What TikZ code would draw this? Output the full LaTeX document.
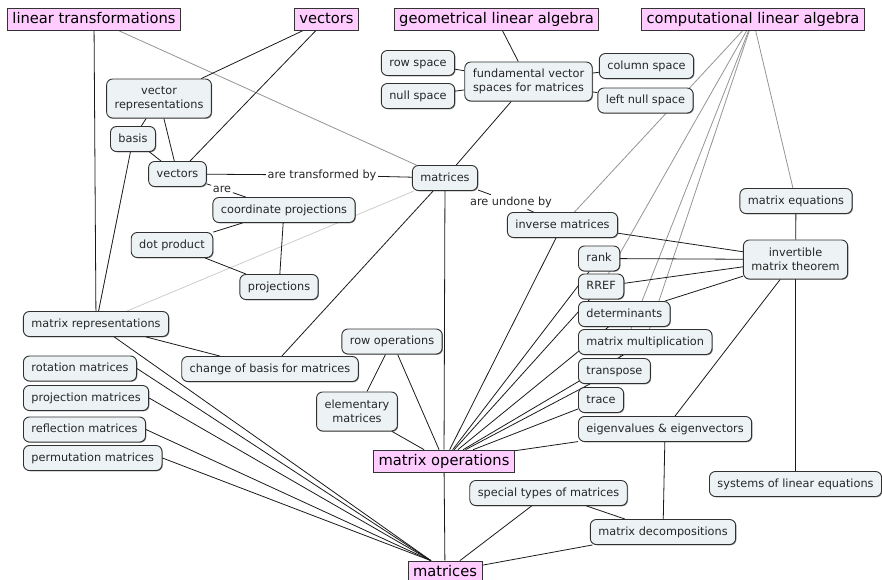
\documentclass[tikz,border=0pt]{standalone}
\usepackage{fontspec}
\setmainfont{DejaVu Sans}
\usetikzlibrary{backgrounds,shadows}
\definecolor{pinkfill}{HTML}{FFCCFF}
\definecolor{boxfill}{HTML}{EDF3F5}
\definecolor{edgecol}{HTML}{1A1A1A}
\definecolor{bordercol}{HTML}{303030}
\begin{document}
\begin{tikzpicture}[x=1pt,y=-1pt,
 cbox/.style={draw=bordercol, fill=boxfill, rounded corners=6pt, line width=0.9pt,
   font=\fontsize{11.3}{14}\selectfont, text=black!85, inner xsep=8pt, inner ysep=0pt,
   text height=8.7pt, text depth=2.6pt, minimum height=25pt,
   drop shadow={shadow xshift=0.8pt,shadow yshift=-0.8pt,opacity=0.45,fill=black}},
 cbox2/.style={cbox, text height={}, text depth={}, align=center, minimum height=39pt},
 topic/.style={draw=black!80, fill=pinkfill, line width=0.7pt,
   font=\fontsize{14.7}{17}\selectfont, inner xsep=5pt, inner ysep=0pt,
   text height=11pt, text depth=3pt, minimum height=22pt},
 lbl/.style={font=\fontsize{11.3}{14}\selectfont, text=black!85, inner sep=1.5pt,
   text height=8.7pt, text depth=2.6pt},
 blk/.style={draw=edgecol, line width=0.8pt},
 gry/.style={draw=black!42, line width=0.8pt},
 lgry/.style={draw=black!20, line width=0.8pt}]
\useasboundingbox (0,0) rectangle (882,579);

% topic nodes
\node[topic] (lt) at (94,19.5) {linear transformations};
\node[topic] (vt) at (326.5,19.5) {vectors};
\node[topic] (gla) at (496.5,19) {geometrical linear algebra};
\node[topic] (cla) at (753,19.5) {computational linear algebra};
\node[topic] (mo) at (444,461) {matrix operations};
\node[topic] (mb) at (445,572) {matrices};

% concept nodes
\node[cbox2] (vr) at (159,98.5) {vector\\representations};
\node[cbox] (basis) at (133,139) {basis};
\node[cbox] (vec) at (177.5,174) {vectors};
\node[lbl] (atb) at (322,175) {are transformed by};
\node[cbox] (mm) at (445,178) {matrices};
\node[lbl] (are) at (222,189) {are};
\node[cbox] (cp) at (284,210) {coordinate projections};
\node[cbox] (dp) at (172,245) {dot product};
\node[cbox] (proj) at (279,287) {projections};
\node[cbox] (mr) at (96,324) {matrix representations};
\node[cbox] (rs) at (418,63) {row space};
\node[cbox] (ns) at (418,96) {null space};
\node[cbox2] (fvs) at (528.5,81.5) {fundamental vector\\spaces for matrices};
\node[cbox] (cs) at (646.5,66) {column space};
\node[cbox] (lns) at (645.5,100.5) {left null space};
\node[lbl] (aub) at (511,202) {are undone by};
\node[cbox] (inv) at (562.5,225) {inverse matrices};
\node[cbox] (meq) at (796,201) {matrix equations};
\node[cbox2] (imt) at (795.5,259.5) {invertible\\matrix theorem};
\node[cbox, anchor=west] (rank) at (578,258.5) {rank};
\node[cbox, anchor=west] (rref) at (578,286.5) {RREF};
\node[cbox, anchor=west] (det) at (578,314) {determinants};
\node[cbox, anchor=west] (mmul) at (578,342) {matrix multiplication};
\node[cbox, anchor=west] (tr) at (578,371) {transpose};
\node[cbox, anchor=west] (trace) at (578,400) {trace};
\node[cbox, anchor=west] (eig) at (578,429) {eigenvalues \& eigenvectors};
\node[cbox] (sle) at (795.5,484) {systems of linear equations};
\node[cbox] (stm) at (548.5,493) {special types of matrices};
\node[cbox] (md) at (663,532) {matrix decompositions};
\node[cbox] (ro) at (392,341.5) {row operations};
\node[cbox] (cb) at (270,369) {change of basis for matrices};
\node[cbox2] (em) at (357,411.5) {elementary\\matrices};
\node[cbox, anchor=west] (rot) at (23,368.5) {rotation matrices};
\node[cbox, anchor=west] (pm) at (23,398) {projection matrices};
\node[cbox, anchor=west] (rm) at (23,429.5) {reflection matrices};
\node[cbox, anchor=west] (perm) at (23,458) {permutation matrices};

\begin{pgfonlayer}{background}
% gray links
\draw[gry] (lt) -- (mm);
\draw[lgry] (mm) -- (mr);
\draw[gry] (cla) -- (inv);
\draw[gry] (cla) -- (rref);
\draw[gry] (cla) -- (tr);
\draw[gry] (cla) -- (mmul);
\draw[gry] (cla) -- (meq);
% black links
\draw[blk] (lt) -- (mr);
\draw[blk] (vt) -- (vr);
\draw[blk] (vt) -- (vec);
\draw[blk] (vr) -- (basis);
\draw[blk] (vr) -- (vec);
\draw[blk] (basis) -- (vec);
\draw[blk] (basis) -- (mr);
\draw[blk] (vec) -- (atb);
\draw[blk] (atb) -- (mm);
\draw[blk] (vec) -- (are);
\draw[blk] (are) -- (cp);
\draw[blk] (cp) -- (dp);
\draw[blk] (cp) -- (proj);
\draw[blk] (dp) -- (proj);
\draw[blk] (gla) -- (fvs);
\draw[blk] (fvs) -- (rs);
\draw[blk] (fvs) -- (ns);
\draw[blk] (fvs) -- (cs);
\draw[blk] (fvs) -- (lns);
\draw[blk] (fvs) -- (mm);
\draw[blk] (mm) -- (cb);
\draw[blk] (mm) -- (mo);
\draw[blk] (mm) -- (aub);
\draw[blk] (aub) -- (inv);
\draw[blk] (mr) -- (cb);
\draw[blk] (mr) -- ([xshift=-14pt]mb.north);
\draw[blk] (rot.east) -- ([xshift=-14pt]mb.north);
\draw[blk] (pm.east) -- ([xshift=-14pt]mb.north);
\draw[blk] (rm.east) -- ([xshift=-14pt]mb.north);
\draw[blk] (perm.east) -- ([xshift=-14pt]mb.north);
\draw[blk] (ro) -- (em);
\draw[blk] (ro) -- (mo);
\draw[blk] (em) -- (mo);
\draw[blk] (mo) -- (inv);
\draw[blk] (mo) -- (rank);
\draw[blk] (mo) -- (rref);
\draw[blk] (mo) -- (det);
\draw[blk] (mo) -- (mmul);
\draw[blk] (mo) -- (tr);
\draw[blk] (mo) -- (trace);
\draw[blk] (mo) -- (eig);
\draw[blk] (mo) -- (mb);
\draw[blk] (inv) -- (imt);
\draw[blk] (rank) -- (imt);
\draw[blk] (rref) -- (imt);
\draw[blk] (det) -- (imt);
\draw[blk] (meq) -- (imt);
\draw[blk] (imt) -- (sle);
\draw[blk] (imt) -- (eig);
\draw[blk] (eig) -- (md);
\draw[blk] (stm) -- (mb);
\draw[blk] (stm) -- (md);
\draw[blk] (md) -- (mb);
\end{pgfonlayer}
\end{tikzpicture}
\end{document}
